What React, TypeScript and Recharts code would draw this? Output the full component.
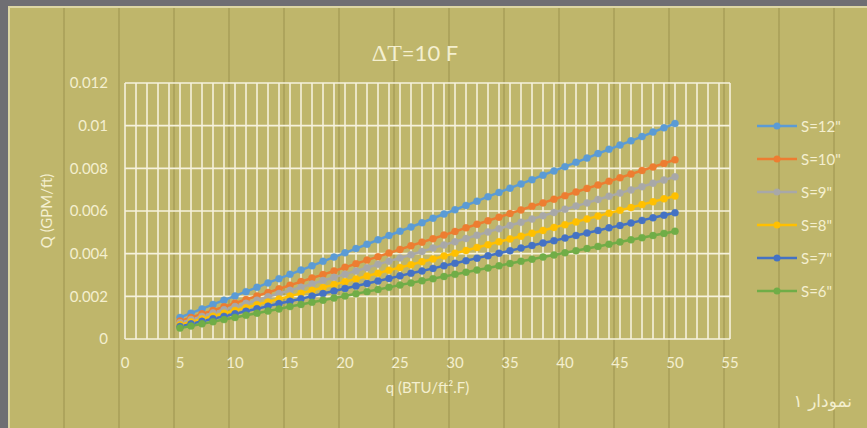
import React from 'react'
import { LineChart, Line, XAxis, YAxis, CartesianGrid, Legend, Label } from 'recharts'

// heat flux q (BTU/ft².F), one point per unit from 5 to 50
const qValues = [
  5, 6, 7, 8, 9, 10, 11, 12, 13, 14, 15, 16, 17, 18, 19, 20, 21, 22, 23, 24, 25, 26, 27,
  28, 29, 30, 31, 32, 33, 34, 35, 36, 37, 38, 39, 40, 41, 42, 43, 44, 45, 46, 47, 48, 49, 50,
]

const s12 = [
  0.00101, 0.00121, 0.00141, 0.00162, 0.00182, 0.00202, 0.00222, 0.00242, 0.00263, 0.00283,
  0.00303, 0.00323, 0.00343, 0.00364, 0.00384, 0.00404, 0.00424, 0.00444, 0.00465, 0.00485,
  0.00505, 0.00525, 0.00545, 0.00566, 0.00586, 0.00606, 0.00626, 0.00646, 0.00667, 0.00687,
  0.00707, 0.00727, 0.00747, 0.00768, 0.00788, 0.00808, 0.00828, 0.00848, 0.00869, 0.00889,
  0.00909, 0.00929, 0.00949, 0.0097, 0.0099, 0.0101,
]
const s10 = [
  0.00084, 0.00101, 0.00118, 0.00134, 0.00151, 0.00168, 0.00185, 0.00202, 0.00218, 0.00235,
  0.00252, 0.00269, 0.00286, 0.00302, 0.00319, 0.00336, 0.00353, 0.0037, 0.00386, 0.00403,
  0.0042, 0.00437, 0.00454, 0.0047, 0.00487, 0.00504, 0.00521, 0.00538, 0.00554, 0.00571,
  0.00588, 0.00605, 0.00622, 0.00638, 0.00655, 0.00672, 0.00689, 0.00706, 0.00722, 0.00739,
  0.00756, 0.00773, 0.0079, 0.00806, 0.00823, 0.0084,
]
const s9 = [
  0.00076, 0.00091, 0.00106, 0.00122, 0.00137, 0.00152, 0.00167, 0.00182, 0.00198, 0.00213,
  0.00228, 0.00243, 0.00258, 0.00274, 0.00289, 0.00304, 0.00319, 0.00334, 0.0035, 0.00365,
  0.0038, 0.00395, 0.0041, 0.00426, 0.00441, 0.00456, 0.00471, 0.00486, 0.00502, 0.00517,
  0.00532, 0.00547, 0.00562, 0.00578, 0.00593, 0.00608, 0.00623, 0.00638, 0.00654, 0.00669,
  0.00684, 0.00699, 0.00714, 0.0073, 0.00745, 0.0076,
]
const s8 = [
  0.00067, 0.0008, 0.00094, 0.00107, 0.00121, 0.00134, 0.00147, 0.00161, 0.00174, 0.00188,
  0.00201, 0.00214, 0.00228, 0.00241, 0.00255, 0.00268, 0.00281, 0.00295, 0.00308, 0.00322,
  0.00335, 0.00348, 0.00362, 0.00375, 0.00389, 0.00402, 0.00415, 0.00429, 0.00442, 0.00456,
  0.00469, 0.00482, 0.00496, 0.00509, 0.00523, 0.00536, 0.00549, 0.00563, 0.00576, 0.0059,
  0.00603, 0.00616, 0.0063, 0.00643, 0.00657, 0.0067,
]
const s7 = [
  0.00059, 0.00071, 0.00083, 0.00095, 0.00106, 0.00118, 0.0013, 0.00142, 0.00154, 0.00166,
  0.00177, 0.00189, 0.00201, 0.00213, 0.00225, 0.00237, 0.00248, 0.0026, 0.00272, 0.00284,
  0.00296, 0.00308, 0.00319, 0.00331, 0.00343, 0.00355, 0.00367, 0.00379, 0.0039, 0.00402,
  0.00414, 0.00426, 0.00438, 0.0045, 0.00461, 0.00473, 0.00485, 0.00497, 0.00509, 0.00521,
  0.00532, 0.00544, 0.00556, 0.00568, 0.0058, 0.00592,
]
const s6 = [
  0.00051, 0.00061, 0.00071, 0.00081, 0.00091, 0.00101, 0.00111, 0.00121, 0.00131, 0.00141,
  0.00152, 0.00162, 0.00172, 0.00182, 0.00192, 0.00202, 0.00212, 0.00222, 0.00232, 0.00242,
  0.00253, 0.00263, 0.00273, 0.00283, 0.00293, 0.00303, 0.00313, 0.00323, 0.00333, 0.00343,
  0.00354, 0.00364, 0.00374, 0.00384, 0.00394, 0.00404, 0.00414, 0.00424, 0.00434, 0.00444,
  0.00455, 0.00465, 0.00475, 0.00485, 0.00495, 0.00505,
]

const seriesNames = ['S=12"', 'S=10"', 'S=9"', 'S=8"', 'S=7"', 'S=6"']
const seriesValues = [s12, s10, s9, s8, s7, s6]
const seriesColors = ['#5b9bd5', '#ed7d31', '#a8a8a8', '#ffc000', '#4472c4', '#70ad47']

// grid line every unit, label every 5
const xGridTicks = Array.from({ length: 56 }, (_, i) => i)
const yTicks = [0, 0.002, 0.004, 0.006, 0.008, 0.01, 0.012]

const chartData = qValues.map((q, i) => {
  const row: Record<string, number> = { q }
  seriesNames.forEach((name, k) => {
    row[name] = seriesValues[k][i]
  })
  return row
})

const TEXT = '#f4efcf'
const FONT = 'Lato, "Open Sans", sans-serif'

function LegendBox() {
  return (
    <div style={{ fontFamily: FONT, fontSize: 15, color: TEXT }}>
      {seriesNames.map((name, i) => (
        <div key={name} style={{ display: 'flex', alignItems: 'center', height: 33 }}>
          <svg width={42} height={10} style={{ marginRight: 2 }}>
            <line x1={0} y1={5} x2={40} y2={5} stroke={seriesColors[i]} strokeWidth={2.5} />
            <circle cx={20} cy={5} r={3.5} fill={seriesColors[i]} />
          </svg>
          <span>{name}</span>
        </div>
      ))}
    </div>
  )
}

export default function App() {
  return (
    <div style={{ position: 'absolute', left: 0, top: 0, width: 867, height: 428, background: '#6f6e73', overflow: 'hidden' }}>
      <div
        style={{
          position: 'absolute',
          left: 8,
          top: 6,
          width: 859,
          height: 422,
          background: '#bfb66b',
          borderLeft: '2px solid #ddd6a4',
          borderTop: '2px solid #ddd6a4',
          backgroundImage:
            'repeating-linear-gradient(to right, transparent 0px, transparent 53px, rgba(110,100,40,0.22) 53px, rgba(110,100,40,0.22) 55px)',
        }}
      />
      <div
        style={{
          position: 'absolute',
          left: 315,
          top: 41,
          width: 200,
          textAlign: 'center',
          color: TEXT,
          fontSize: 22,
          lineHeight: 1,
        }}
      >
        <span style={{ fontFamily: '"Liberation Serif", serif', fontSize: 24 }}>ΔT</span>
        <span style={{ fontFamily: FONT }}>=10 F</span>
      </div>
      <div
        style={{
          position: 'absolute',
          right: 15,
          top: 391,
          color: TEXT,
          fontSize: 17,
          fontFamily: '"DejaVu Sans", sans-serif',
          direction: 'rtl',
        }}
      >
        نمودار ۱
      </div>
      <div style={{ position: 'absolute', left: 0, top: 0 }}>
        <LineChart width={867} height={428} data={chartData} margin={{ top: 83, right: 37, bottom: 59, left: 0 }}>
          <CartesianGrid stroke="#f6f2dc" strokeWidth={1.6} />
          <XAxis
            dataKey="q"
            type="number"
            domain={[0, 55]}
            ticks={xGridTicks}
            interval={0}
            tickFormatter={(v: number) => (v % 5 === 0 ? String(v) : '')}
            tickLine={false}
            axisLine={false}
            tickMargin={12}
            height={30}
            tick={{ fill: TEXT, fontSize: 15, fontFamily: FONT }}
          >
            <Label
              value="q (BTU/ft².F)"
              position="bottom"
              offset={13}
              style={{ fill: TEXT, fontSize: 15, fontFamily: FONT }}
            />
          </XAxis>
          <YAxis
            type="number"
            domain={[0, 0.012]}
            ticks={yTicks}
            width={125}
            tickLine={false}
            axisLine={false}
            tickMargin={11}
            tick={{ fill: TEXT, fontSize: 15, fontFamily: FONT }}
          >
            <Label
              value="Q (GPM/ft)"
              angle={-90}
              position="insideLeft"
              offset={47}
              style={{ fill: TEXT, fontSize: 15, fontFamily: FONT, textAnchor: 'middle' }}
            />
          </YAxis>
          <Legend
            layout="vertical"
            align="right"
            verticalAlign="top"
            content={() => <LegendBox />}
            wrapperStyle={{ position: 'absolute', left: 757, top: 109, width: 100 }}
          />
          {seriesNames.map((name, i) => (
            <Line
              key={name}
              dataKey={name}
              type="linear"
              stroke={seriesColors[i]}
              strokeWidth={2.5}
              dot={{ r: 3.5, fill: seriesColors[i], stroke: seriesColors[i], strokeWidth: 0.5 }}
              isAnimationActive={false}
            />
          ))}
        </LineChart>
      </div>
    </div>
  )
}
